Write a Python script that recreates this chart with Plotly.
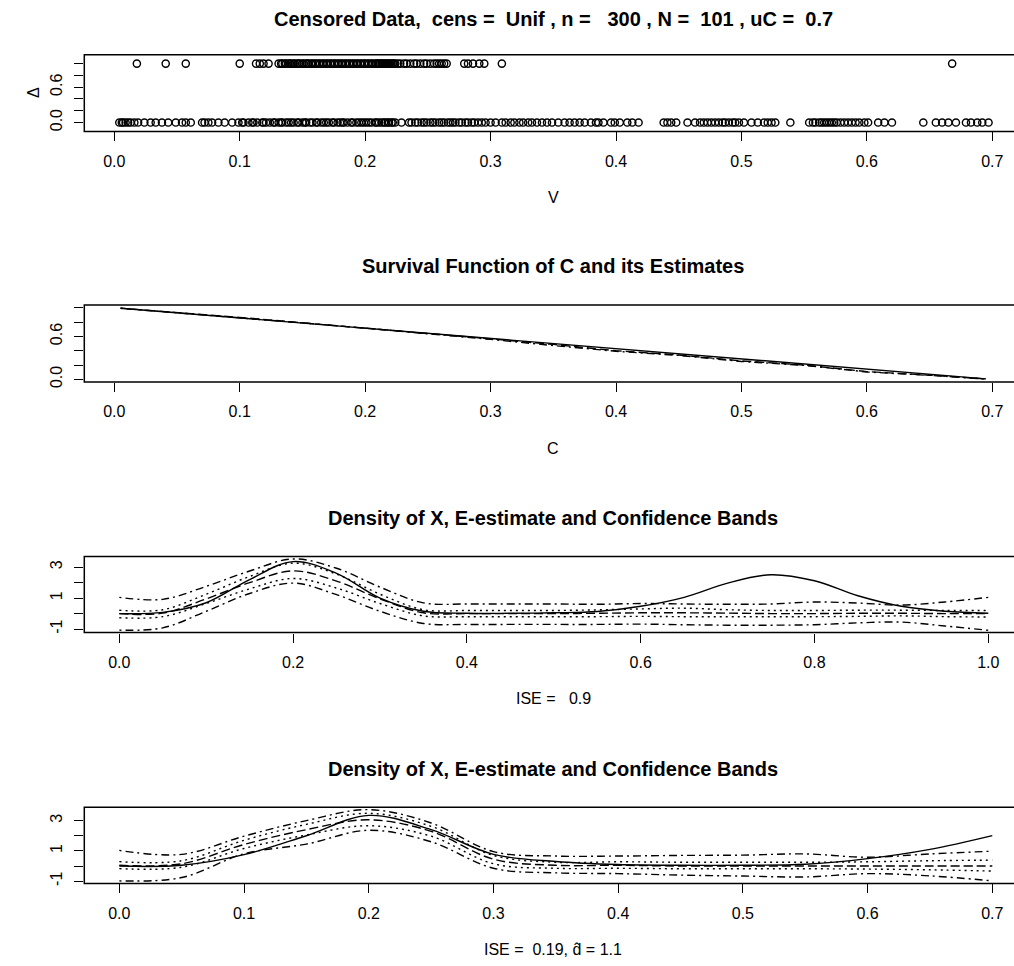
import plotly.graph_objects as go

W, H = 1014, 966
FONT = "Liberation Sans, Arial, Helvetica, sans-serif"

# ---------------- Panel 1 data: censored observations ----------------
v_uncensored = [
    0.018, 0.041, 0.057, 0.100,
    0.113, 0.116, 0.119, 0.123,
    0.131, 0.133, 0.134, 0.136, 0.137, 0.139, 0.140, 0.141, 0.143, 0.144,
    0.146, 0.147, 0.148, 0.150, 0.151, 0.153, 0.154, 0.155, 0.157, 0.158,
    0.160, 0.161, 0.163, 0.164, 0.166, 0.167, 0.169, 0.170, 0.172, 0.173,
    0.175, 0.176, 0.178, 0.179, 0.181, 0.182, 0.184, 0.185, 0.187, 0.188,
    0.190, 0.191, 0.193, 0.194, 0.196, 0.197, 0.199, 0.200, 0.202, 0.203,
    0.205, 0.206, 0.208, 0.209, 0.210, 0.211, 0.212, 0.213, 0.214, 0.215,
    0.216, 0.217, 0.218, 0.219, 0.220, 0.221, 0.222, 0.223, 0.224, 0.226,
    0.228, 0.231, 0.233, 0.236, 0.239, 0.241, 0.244, 0.247, 0.249, 0.252,
    0.255, 0.257, 0.259, 0.261, 0.263, 0.265,
    0.279, 0.282, 0.286, 0.291, 0.295, 0.309,
    0.668,
]
v_censored = [
    0.004, 0.006, 0.007, 0.009, 0.011, 0.013, 0.016, 0.019,
    0.024, 0.029, 0.033, 0.038, 0.043, 0.049,
    0.054, 0.057, 0.061,
    0.070, 0.072, 0.075, 0.078, 0.083, 0.088, 0.094,
    0.099, 0.102, 0.103, 0.107, 0.110, 0.111, 0.114, 0.118, 0.119, 0.121,
    0.124, 0.127, 0.128, 0.131, 0.133, 0.134, 0.137, 0.139, 0.141, 0.143,
    0.146, 0.147, 0.150, 0.152, 0.153, 0.156, 0.158, 0.161, 0.162, 0.165,
    0.167, 0.169, 0.171, 0.174, 0.175, 0.178, 0.180, 0.182, 0.183, 0.186,
    0.189, 0.190, 0.193, 0.195, 0.197, 0.199, 0.201, 0.203, 0.205, 0.208,
    0.209, 0.211, 0.213, 0.215, 0.216, 0.218, 0.219, 0.221, 0.222, 0.224,
    0.229,
    0.235, 0.237, 0.240, 0.242, 0.245, 0.247, 0.249, 0.252, 0.254, 0.256,
    0.259, 0.261, 0.263, 0.266, 0.268, 0.270, 0.272, 0.275, 0.277, 0.280,
    0.282, 0.285, 0.287, 0.290, 0.293, 0.296, 0.300, 0.304,
    0.309, 0.312, 0.316, 0.319, 0.323, 0.326, 0.330, 0.333, 0.337, 0.341,
    0.345, 0.349, 0.354, 0.359,
    0.363, 0.367, 0.371, 0.375, 0.380,
    0.384, 0.386, 0.390,
    0.396, 0.399, 0.403, 0.409, 0.413, 0.418,
    0.438, 0.441, 0.444, 0.448,
    0.457, 0.463, 0.467, 0.470, 0.473, 0.476, 0.479, 0.482, 0.485, 0.487,
    0.490, 0.493, 0.495, 0.498, 0.502,
    0.508, 0.513, 0.518, 0.521, 0.524, 0.527,
    0.539,
    0.554, 0.557, 0.559, 0.562, 0.564, 0.566, 0.568, 0.570, 0.572, 0.574,
    0.576, 0.579, 0.582, 0.585, 0.588, 0.591, 0.594, 0.598, 0.601,
    0.609, 0.614, 0.620,
    0.645,
    0.655, 0.660, 0.665, 0.671,
    0.679, 0.683, 0.688, 0.692, 0.697,
]
delta_uncensored = [1] * len(v_uncensored)
delta_censored = [0] * len(v_censored)

# ---------------- Panel 2 data: survival function of C ----------------
c_grid = [0.005, 0.05, 0.10, 0.15, 0.20, 0.25, 0.30, 0.35, 0.40, 0.45, 0.50, 0.55, 0.60, 0.65, 0.695]
surv_true = [0.993, 0.929, 0.857, 0.786, 0.714, 0.643, 0.571, 0.500, 0.429, 0.357, 0.286, 0.214, 0.143, 0.071, 0.007]
surv_est1 = [0.995, 0.935, 0.866, 0.790, 0.718, 0.645, 0.566, 0.488, 0.400, 0.340, 0.258, 0.200, 0.108, 0.058, 0.005]
surv_est2 = [0.993, 0.932, 0.862, 0.789, 0.716, 0.640, 0.558, 0.472, 0.392, 0.335, 0.250, 0.195, 0.103, 0.055, 0.005]

# ---------------- Panel 3 data: density on [0, 1] ----------------
x3 = [0.00, 0.05, 0.10, 0.15, 0.20, 0.25, 0.30, 0.35, 0.40, 0.45, 0.50,
      0.55, 0.60, 0.65, 0.70, 0.75, 0.80, 0.85, 0.90, 0.95, 1.00]
d3_true = [0.00, 0.08, 0.70, 2.20, 3.36, 2.60, 1.00, 0.15, 0.02, 0.02, 0.05,
           0.13, 0.47, 1.05, 1.97, 2.51, 2.12, 1.15, 0.47, 0.15, 0.02]
d3_est = [0.00, 0.03, 0.95, 2.00, 2.76, 2.10, 0.95, 0.05, 0.00, 0.00, 0.00,
          0.02, 0.05, 0.05, 0.03, 0.00, 0.00, 0.02, 0.02, 0.00, 0.00]
d3_pw_up = [0.22, 0.25, 1.25, 2.40, 3.26, 2.55, 1.25, 0.25, 0.20, 0.20, 0.20,
            0.24, 0.30, 0.35, 0.25, 0.20, 0.20, 0.22, 0.22, 0.20, 0.20]
d3_pw_lo = [-0.27, -0.20, 0.65, 1.60, 2.27, 1.65, 0.65, -0.15, -0.20, -0.20, -0.20,
            -0.20, -0.18, -0.20, -0.20, -0.20, -0.20, -0.18, -0.15, -0.20, -0.22]
d3_sb_up = [1.05, 0.92, 1.76, 2.75, 3.53, 2.93, 1.71, 0.69, 0.62, 0.62, 0.62,
            0.60, 0.65, 0.62, 0.60, 0.62, 0.75, 0.68, 0.55, 0.75, 1.05]
d3_sb_lo = [-1.07, -0.92, 0.15, 1.30, 1.97, 1.22, 0.15, -0.64, -0.70, -0.70, -0.70,
            -0.70, -0.68, -0.72, -0.75, -0.75, -0.72, -0.60, -0.55, -0.80, -1.08]

# ---------------- Panel 4 data: density on [0, 0.7] ----------------
x4 = [0.00, 0.05, 0.10, 0.15, 0.20, 0.25, 0.30, 0.35, 0.40, 0.45, 0.50, 0.55, 0.60, 0.65, 0.70]
d4_true = [0.00, 0.05, 0.75, 2.00, 3.34, 2.40, 0.77, 0.30, 0.10, 0.05, 0.05, 0.12, 0.49, 1.10, 2.01]
d4_est = [0.05, 0.15, 1.42, 2.40, 3.05, 2.29, 0.45, 0.05, 0.05, 0.00, 0.00, 0.00, 0.00, 0.00, 0.00]
d4_pw_up = [0.29, 0.35, 1.70, 2.75, 3.48, 2.62, 0.70, 0.25, 0.28, 0.25, 0.25, 0.25, 0.28, 0.35, 0.39]
d4_pw_lo = [-0.17, -0.08, 1.16, 2.05, 2.66, 1.97, 0.15, -0.15, -0.15, -0.18, -0.18, -0.18, -0.20, -0.25, -0.33]
d4_sb_up = [1.03, 0.77, 1.97, 3.00, 3.72, 2.84, 0.95, 0.66, 0.66, 0.70, 0.72, 0.80, 0.58, 0.80, 0.98]
d4_sb_lo = [-0.98, -0.76, 0.81, 1.45, 2.36, 1.60, -0.15, -0.45, -0.50, -0.60, -0.66, -0.72, -0.50, -0.65, -0.98]

# ---------------- Tick labels ----------------
x_ticks_07 = [0.0, 0.1, 0.2, 0.3, 0.4, 0.5, 0.6, 0.7]
x_ticklabels_07 = ["0.0", "0.1", "0.2", "0.3", "0.4", "0.5", "0.6", "0.7"]
x_ticks_10 = [0.0, 0.2, 0.4, 0.6, 0.8, 1.0]
x_ticklabels_10 = ["0.0", "0.2", "0.4", "0.6", "0.8", "1.0"]
y_ticks_01 = [0.0, 0.2, 0.4, 0.6, 0.8, 1.0]
y_ticklabels_01 = ["0.0", "", "", "0.6", "", ""]
y_ticks_dens = [-1, 0, 1, 2, 3]
y_ticklabels_dens = ["-1", "", "1", "", "3"]

titles = [
    "Censored Data,\u00a0 cens =\u00a0 Unif , n =\u00a0\u00a0 300 , N =\u00a0 101 , uC =\u00a0 0.7",
    "Survival Function of C and its Estimates",
    "Density of X, E-estimate and Confidence Bands",
    "Density of X, E-estimate and Confidence Bands",
]
xlabels = ["V", "C", "ISE =\u00a0\u00a0 0.9", "ISE =\u00a0 0.19, d\u0302 = 1.1"]

# ---------------- Layout geometry (pixels) ----------------
box_left = 84.3
boxes = [(55.0, 132.3), (307.0, 384.3), (560.0, 636.5), (812.3, 889.0)]
xranges = [[-0.0239, 0.7173], [-0.0239, 0.7173], [-0.0403, 1.0296], [-0.0281, 0.7174]]
yranges = [[-0.152, 1.152], [-0.036, 1.0376], [-1.225, 3.687], [-1.151, 3.879]]
title_y = [19, 268, 521, 774]
xlab_y = [199, 451, 703, 955]

def py(p):
    return 1 - p / H

LW = 1.4
DASH = "9px,4px"
DOT = "2px,4px"
DOTDASH = "2px,4px,8px,4px"

fig = go.Figure()

marker_style = dict(symbol="circle-open", size=7.2, color="black", line=dict(width=1.4, color="black"))

# Panel 1
fig.add_trace(go.Scatter(x=v_censored, y=delta_censored, mode="markers", marker=marker_style,
                         xaxis="x", yaxis="y", showlegend=False))
fig.add_trace(go.Scatter(x=v_uncensored, y=delta_uncensored, mode="markers", marker=marker_style,
                         xaxis="x", yaxis="y", showlegend=False))

# Panel 2
for yy, dash in [(surv_true, "solid"), (surv_est1, DASH), (surv_est2, DOTDASH)]:
    fig.add_trace(go.Scatter(x=c_grid, y=yy, mode="lines",
                             line=dict(color="black", width=LW, dash=dash),
                             xaxis="x2", yaxis="y2", showlegend=False))

# Panel 3
for yy, dash in [(d3_true, "solid"), (d3_est, DASH), (d3_pw_up, DOT), (d3_pw_lo, DOT),
                 (d3_sb_up, DOTDASH), (d3_sb_lo, DOTDASH)]:
    fig.add_trace(go.Scatter(x=x3, y=yy, mode="lines",
                             line=dict(color="black", width=LW, dash=dash, shape="spline", smoothing=1.0),
                             xaxis="x3", yaxis="y3", showlegend=False))

# Panel 4
for yy, dash in [(d4_true, "solid"), (d4_est, DASH), (d4_pw_up, DOT), (d4_pw_lo, DOT),
                 (d4_sb_up, DOTDASH), (d4_sb_lo, DOTDASH)]:
    fig.add_trace(go.Scatter(x=x4, y=yy, mode="lines",
                             line=dict(color="black", width=LW, dash=dash, shape="spline", smoothing=1.0),
                             xaxis="x4", yaxis="y4", showlegend=False))

tickfont = dict(family=FONT, size=16, color="black")
layout = dict(
    width=W, height=H,
    margin=dict(l=0, r=0, t=0, b=0),
    paper_bgcolor="white", plot_bgcolor="white",
    font=dict(family=FONT, size=16, color="black"),
    showlegend=False,
)

xtickinfo = [(x_ticks_07, x_ticklabels_07), (x_ticks_07, x_ticklabels_07),
             (x_ticks_10, x_ticklabels_10), (x_ticks_07, x_ticklabels_07)]
ytickinfo = [(y_ticks_01, y_ticklabels_01), (y_ticks_01, y_ticklabels_01),
             (y_ticks_dens, y_ticklabels_dens), (y_ticks_dens, y_ticklabels_dens)]

shapes = []
annotations = []
for i in range(4):
    sfx = "" if i == 0 else str(i + 1)
    top, bot = boxes[i]
    layout["xaxis" + sfx] = dict(
        domain=[box_left / W, 1.0], range=xranges[i], anchor="y" + sfx,
        showgrid=False, zeroline=False, showline=False,
        ticks="outside", ticklen=9, tickwidth=1.3, tickcolor="black",
        tickmode="array", tickvals=xtickinfo[i][0], ticktext=xtickinfo[i][1],
        tickfont=tickfont, ticklabelstandoff=6, fixedrange=True,
    )
    layout["yaxis" + sfx] = dict(
        domain=[py(bot), py(top)], range=yranges[i], anchor="x" + sfx,
        showgrid=False, zeroline=False, showline=False,
        ticks="outside", ticklen=9, tickwidth=1.3, tickcolor="black",
        tickmode="array", tickvals=ytickinfo[i][0], ticktext=ytickinfo[i][1],
        tickfont=tickfont, tickangle=-90, ticklabelstandoff=6, fixedrange=True,
    )
    shapes.append(dict(type="rect", xref="paper", yref="paper",
                       x0=box_left / W, x1=1.05, y0=py(bot), y1=py(top),
                       line=dict(color="black", width=1.5), fillcolor="rgba(0,0,0,0)"))
    annotations.append(dict(text="<b>" + titles[i] + "</b>", xref="paper", yref="paper",
                            x=553 / W, y=py(title_y[i]), xanchor="center", yanchor="middle",
                            showarrow=False, font=dict(family=FONT, size=20, color="black")))
    annotations.append(dict(text=xlabels[i], xref="paper", yref="paper",
                            x=553 / W, y=py(xlab_y[i]), xanchor="center", yanchor="middle",
                            showarrow=False, font=dict(family=FONT, size=16, color="black")))

annotations.append(dict(text="\u0394", xref="paper", yref="paper",
                        x=33 / W, y=py(93.7), xanchor="center", yanchor="middle", textangle=-90,
                        showarrow=False, font=dict(family=FONT, size=16, color="black")))

layout["shapes"] = shapes
layout["annotations"] = annotations
fig.update_layout(**layout)

fig.write_html("out.html")
